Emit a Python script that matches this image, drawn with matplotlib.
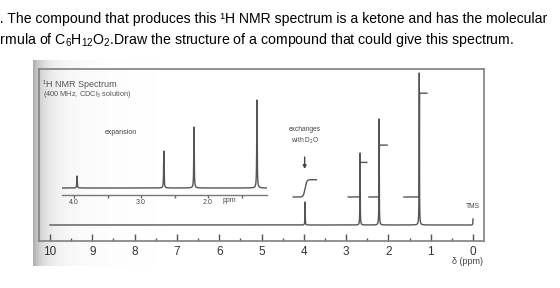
import numpy as np
import matplotlib.pyplot as plt

plt.rcParams['font.family'] = ['Liberation Sans', 'DejaVu Sans']
plt.rcParams['mathtext.fontset'] = 'custom'
plt.rcParams['mathtext.rm'] = 'Liberation Sans'
plt.rcParams['mathtext.default'] = 'regular'

# full spectrum: shifts (ppm) and peak heights
shifts = [3.97, 2.67, 2.22, 1.27]
heights = [23, 72, 106, 152]
tms_height = 6
# integrals (relative number of H)
integrals = [1, 2, 3, 6]

# expansion 4.2 - 1.1 ppm
exp_shifts = [3.955, 2.66, 2.21, 1.27]
exp_heights = [12, 37, 61, 88]

main_ticks = list(range(10, -1, -1))
exp_ticks = [4.0, 3.0, 2.0]
exp_labels = ['4.0', '3.0', '2.0']

W, H = 560, 288
fig = plt.figure(figsize=(W / 100, H / 100), dpi=100)


def rect(x0, y0, x1, y1):
    # pixel box (top-left origin) -> figure fraction
    return [x0 / W, 1 - y1 / H, (x1 - x0) / W, (y1 - y0) / H]


def lorentz(x, pos, hts, w):
    y = np.zeros_like(x)
    for p, h in zip(pos, hts):
        y += h / (1 + ((x - p) / w) ** 2)
    return y


# photo background (grey shading on the left)
bg = fig.add_axes(rect(33, 60, 492, 266), zorder=0)
px = np.arange(459)
grad = 1 - 0.26 * np.exp(-px / 10) - 0.06 * np.exp(-px / 45)
bg.imshow(np.tile(grad, (10, 1)), cmap='gray', vmin=0, vmax=1,
          aspect='auto', extent=[0, 1, 0, 1])
bg.axis('off')

# question text
fig.text(-8 / W, 1 - 19 / H,
         "1. The compound that produces this \u00b9H NMR spectrum is a ketone and has the molecular",
         fontsize=10.1, va='center', ha='left', color='black')
fig.text(-12 / W, 1 - 40 / H,
         "formula of C$_6$H$_{12}$O$_2$.Draw the structure of a compound that could give this spectrum.",
         fontsize=10.2, va='center', ha='left', color='black')

# main spectrum
ax = fig.add_axes(rect(39, 69, 484, 241), zorder=1)
ax.set_facecolor('none')
x = np.linspace(10, 0, 40001)
y = lorentz(x, shifts + [0.0], heights + [tms_height], 0.004)
ax.plot(x, y, color='#555555', lw=1.0)

base = 28
unit = 17.3
spans = [(0.28, 0.27, 0.04), (0.28, 0.16, 0.003), (0.24, 0.19, 0.003), (0.36, 0.18, 0.003)]
for s, n, (l, r, k) in zip(shifts, integrals, spans):
    xi = np.linspace(s + l, s - r, 400)
    yi = base + n * unit * (0.5 + 0.5 * np.tanh((s - xi) / k))
    ax.plot(xi, yi, color='#555555', lw=1.0)

ax.set_xlim(10.26, -0.26)
ax.set_ylim(-16, 156)
ax.set_xticks(main_ticks)
ax.set_xticklabels([str(t) for t in main_ticks])
ax.set_xticks(np.arange(9.5, 0, -1), minor=True)
ax.tick_params(axis='x', which='major', direction='in', length=5, width=1,
               color='#555555', labelsize=8.5, labelcolor='#333333', pad=3.5)
ax.tick_params(axis='x', which='minor', direction='in', length=2.5, width=1,
               color='#555555')
ax.set_yticks([])
for sp in ax.spines.values():
    sp.set_color('#808080')
    sp.set_linewidth(1.2)

ax.text(0.0, 18, 'TMS', ha='center', va='center', fontsize=4.8,
        color='#444444')
ax.text(3.98, 89, 'exchanges\nwith D$_2$O', ha='center', va='center',
        fontsize=4.8, color='#444444', linespacing=1.3)
ax.annotate('', xy=(3.98, 56), xytext=(3.98, 68),
            arrowprops=dict(arrowstyle='-|>', color='#444444', lw=1,
                            mutation_scale=5, shrinkA=0, shrinkB=0))
fig.text(43 / W, 1 - 84 / H, '\u00b9H NMR Spectrum', fontsize=6.5,
         color='#555555', va='center')
fig.text(43 / W, 1 - 94 / H, '(400 MHz, CDCl$_3$ solution)', fontsize=5.3,
         color='#555555', va='center')
fig.text(468 / W, 1 - 262 / H, '\u03b4 (ppm)', fontsize=6.5, color='#444444',
         ha='center', va='center')

# expansion inset
ins = fig.add_axes(rect(62, 95, 267, 195), zorder=2)
ins.set_facecolor('none')
xe = np.linspace(4.18, 1.12, 20001)
ye = lorentz(xe, exp_shifts, exp_heights, 0.004)
ins.plot(xe, ye, color='#555555', lw=1.0)
ins.set_xlim(4.18, 1.12)
ins.set_ylim(-7, 93)
ins.set_xticks(exp_ticks)
ins.set_xticklabels(exp_labels)
ins.set_xticks([3.5, 2.5, 1.5], minor=True)
ins.tick_params(axis='x', which='both', direction='out', length=2, width=1,
                color='#666666', labelsize=5, labelcolor='#444444', pad=1)
ins.set_yticks([])
for k in ['top', 'left', 'right']:
    ins.spines[k].set_visible(False)
ins.spines['bottom'].set_color('#777777')
ins.spines['bottom'].set_linewidth(1.0)
ins.text(1.68, -13, 'ppm', fontsize=5, color='#444444', ha='center', va='center')
ins.text(3.3, 56, 'expansion', fontsize=5, color='#444444', ha='center', va='center')

fig.savefig('out.png', dpi=100)
